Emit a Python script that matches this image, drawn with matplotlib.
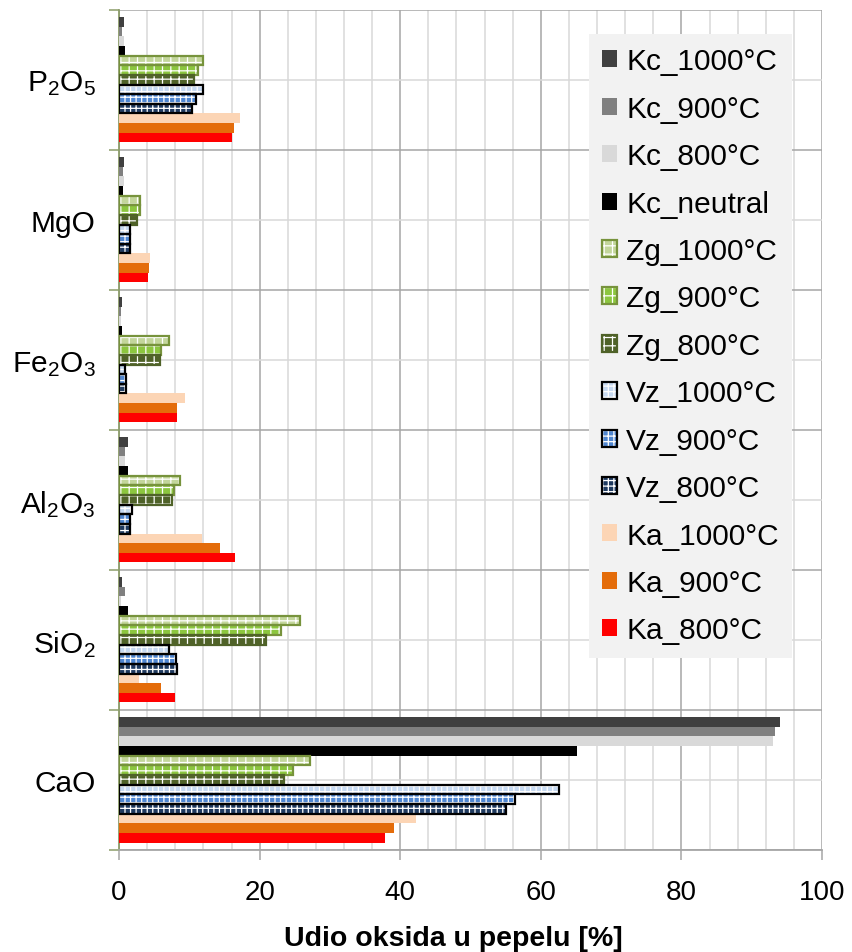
import numpy as np
import matplotlib
matplotlib.use("Agg")
import matplotlib.pyplot as plt

plt.rcParams['font.family'] = ['Liberation Sans', 'DejaVu Sans']
plt.rcParams['mathtext.fontset'] = 'custom'
plt.rcParams['mathtext.rm'] = 'Liberation Sans'
plt.rcParams['mathtext.it'] = 'Liberation Sans'
plt.rcParams['hatch.linewidth'] = 0.9

# categories from bottom to top
oxides = ['CaO', 'SiO$_2$', 'Al$_2$O$_3$', 'Fe$_2$O$_3$', 'MgO', 'P$_2$O$_5$']

# series in legend order (top bar first); values per oxide in same order as oxides
series = ['Kc_1000°C', 'Kc_900°C', 'Kc_800°C', 'Kc_neutral',
          'Zg_1000°C', 'Zg_900°C', 'Zg_800°C',
          'Vz_1000°C', 'Vz_900°C', 'Vz_800°C',
          'Ka_1000°C', 'Ka_900°C', 'Ka_800°C']

kc_1000 = [94.0, 0.4, 1.3, 0.4, 0.75, 0.7]
kc_900 = [93.3, 0.9, 0.9, 0.35, 0.5, 0.4]
kc_800 = [93.0, 0.25, 0.9, 0.25, 0.75, 0.7]
kc_neutral = [65.1, 1.3, 1.3, 0.4, 0.5, 0.85]
zg_1000 = [27.1, 25.8, 8.7, 7.1, 3.0, 12.0]
zg_900 = [24.7, 23.1, 7.8, 5.9, 3.0, 11.2]
zg_800 = [23.5, 20.9, 7.6, 5.8, 2.5, 10.6]
vz_1000 = [62.6, 7.1, 1.85, 0.85, 1.5, 12.0]
vz_900 = [56.3, 8.15, 1.5, 0.95, 1.6, 11.0]
vz_800 = [55.0, 8.3, 1.55, 1.0, 1.6, 10.4]
ka_1000 = [42.2, 2.8, 11.75, 9.4, 4.45, 17.2]
ka_900 = [39.1, 6.0, 14.3, 8.25, 4.3, 16.4]
ka_800 = [37.8, 7.9, 16.5, 8.25, 4.1, 16.0]

values = [kc_1000, kc_900, kc_800, kc_neutral, zg_1000, zg_900, zg_800,
          vz_1000, vz_900, vz_800, ka_1000, ka_900, ka_800]

# (face colour, hatch, outline colour)
styles = [
    ('#404040', None, None),
    ('#808080', None, None),
    ('#D9D9D9', None, None),
    ('#000000', None, None),
    ('#C3D69B', '++', '#77933C'),
    ('#8CC63F', '++', '#77933C'),
    ('#4F6228', '++', '#4F6228'),
    ('#C6D9F1', '+++', '#000000'),
    ('#4F86D0', '+++', '#000000'),
    ('#1F3A5F', '+++', '#000000'),
    ('#FCD5B5', None, None),
    ('#E46C0A', None, None),
    ('#FF0000', None, None),
]

fig = plt.figure(figsize=(8.52, 9.53), dpi=100)
ax = fig.add_axes([0.1397, 0.1073, 0.8251, 0.8815])

n = len(series)
h = 1 / (n + 1.5)
y = np.arange(len(oxides))
handles = []
for i, (name, vals, (fc, hatch, ec)) in enumerate(zip(series, values, styles)):
    pos = y + (n - 1) / 2 * h - i * h
    if hatch is None:
        b = ax.barh(pos, vals, height=h, color=fc, linewidth=0, zorder=3)
        handles.append(b.patches[0])
    else:
        # white pattern on coloured fill, outline drawn on top
        b1 = ax.barh(pos, vals, height=h, facecolor=fc, edgecolor='white',
                     hatch=hatch, linewidth=0, zorder=3)
        b2 = ax.barh(pos, vals, height=h, fill=False, edgecolor=ec,
                     linewidth=1.6, zorder=4)
        handles.append((b1.patches[0], b2.patches[0]))

ax.set_xlim(0, 100)
ax.set_ylim(-0.5, len(oxides) - 0.5)

ax.set_xticks(np.arange(0, 101, 20))
ax.set_xticks(np.arange(0, 101, 4), minor=True)
ax.set_yticks(np.arange(-0.5, len(oxides), 1))
ax.set_yticks(y, minor=True)
ax.set_yticklabels([])
ax.set_yticklabels(oxides, minor=True)

ax.set_axisbelow(True)
ax.grid(which='major', color='#A6A6A6', linewidth=1.1)
ax.grid(which='minor', color='#D9D9D9', linewidth=1.1)

ax.tick_params(axis='x', which='major', length=7, width=1.1, color='#A6A6A6',
               labelsize=20, pad=14)
ax.tick_params(axis='x', which='minor', length=0)
ax.tick_params(axis='y', which='major', length=7, width=1.1, color='#8C9C6A')
ax.tick_params(axis='y', which='minor', length=0, labelsize=21.5, pad=17)

for s in ['top', 'right']:
    ax.spines[s].set_visible(False)
ax.spines['left'].set_color('#8C9C6A')
ax.spines['left'].set_linewidth(1.3)
ax.spines['bottom'].set_color('#A6A6A6')
ax.spines['bottom'].set_linewidth(1.3)

ax.set_xlabel('Udio oksida u pepelu [%]', fontsize=20.5, fontweight='bold')
ax.xaxis.set_label_coords(0.475, -0.0895)

leg = ax.legend(handles, series, loc='upper left',
                bbox_to_anchor=(589 / 852, 1 - 35 / 953),
                bbox_transform=fig.transFigure, fontsize=21.5,
                frameon=True, fancybox=False, borderaxespad=0,
                handlelength=0.5, handleheight=0.5, handletextpad=0.3,
                labelspacing=0.65, borderpad=0.45)
leg.get_frame().set_facecolor('#F2F2F2')
leg.get_frame().set_edgecolor('none')
leg.get_frame().set_alpha(1)
leg.set_zorder(10)

fig.savefig('out.png', dpi=100)
